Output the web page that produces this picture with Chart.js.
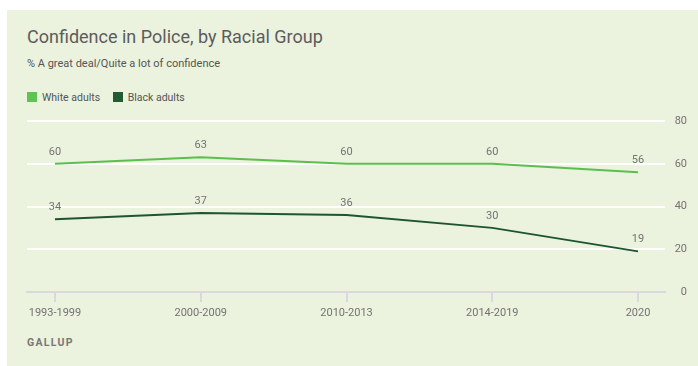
<!DOCTYPE html>
<html>
<head>
<meta charset="utf-8">
<script src="https://cdn.jsdelivr.net/npm/chart.js@4/dist/chart.umd.min.js"></script>
<style>
    html, body { margin: 0; padding: 0; background: #ffffff; }
    body { width: 698px; height: 366px; position: relative; overflow: hidden; font-family: Roboto, "Noto Sans", sans-serif; }
    .card { position: absolute; left: 7px; top: 10px; width: 691px; height: 356px; background: #ebf2de; }
    .title { position: absolute; left: 27px; top: 25px; font-size: 18px; color: #5c5c5c; line-height: 24px; white-space: nowrap; }
    .subtitle { position: absolute; left: 27px; top: 57px; font-size: 11px; color: #555; line-height: 14px; white-space: nowrap; }
    .legend { position: absolute; left: 27px; top: 91px; font-size: 10.5px; color: #555; line-height: 14px; white-space: nowrap; }
    .legend span.sw { display: inline-block; width: 10px; height: 10px; vertical-align: -1px; margin-right: 5px; }
    .legend span.item { margin-right: 10px; }
    .source { position: absolute; left: 27px; top: 336px; font-size: 10.5px; color: #777; font-weight: bold; letter-spacing: 1.3px; line-height: 14px; }
    #chartWrap { position: absolute; left: 0; top: 0; width: 698px; height: 366px; }
</style>
</head>
<body>
<div class="card"></div>
<div class="title">Confidence in Police, by Racial Group</div>
<div class="subtitle">% A great deal/Quite a lot of confidence</div>
<div class="legend">
    <span class="item"><span class="sw" style="background:#5fc253"></span>White adults</span>
    <span class="item"><span class="sw" style="background:#235c33"></span>Black adults</span>
</div>
<div class="source">GALLUP</div>
<div id="chartWrap"><canvas id="myChart"></canvas></div>

<script>
// categories and values
const periods = ['1993-1999', '2000-2009', '2010-2013', '2014-2019', '2020'];
const whiteAdults = [60, 63, 60, 60, 56];
const blackAdults = [34, 37, 36, 30, 19];
const yTicks = [0, 20, 40, 60, 80];

const whiteColor = '#5bbf4e';
const blackColor = '#1d5530';

// labels above each point
const pointLabels = {
    id: 'pointLabels',
    afterDatasetsDraw(chart) {
        const ctx = chart.ctx;
        ctx.save();
        ctx.font = '11px Roboto, "Noto Sans", sans-serif';
        ctx.fillStyle = '#737373';
        ctx.textAlign = 'center';
        ctx.textBaseline = 'middle';
        chart.data.datasets.forEach((ds, i) => {
            chart.getDatasetMeta(i).data.forEach((pt, j) => {
                ctx.fillText(ds.data[j].y, pt.x, pt.y - 12);
            });
        });
        ctx.restore();
    }
};

const toPoints = arr => arr.map((v, i) => ({ x: i, y: v }));

new Chart(document.getElementById('myChart'), {
    type: 'line',
    data: {
        datasets: [{
            label: 'White adults',
            data: toPoints(whiteAdults),
            borderColor: whiteColor,
            borderWidth: 2,
            pointRadius: 0,
            tension: 0
        }, {
            label: 'Black adults',
            data: toPoints(blackAdults),
            borderColor: blackColor,
            borderWidth: 2,
            pointRadius: 0,
            tension: 0
        }]
    },
    options: {
        responsive: true,
        maintainAspectRatio: false,
        animation: false,
        layout: { padding: { left: 27, right: 11, top: 121, bottom: 0 } },
        plugins: {
            legend: { display: false },
            tooltip: { enabled: false }
        },
        scales: {
            x: {
                type: 'linear',
                min: -0.192,
                max: 4.185,
                afterBuildTicks: scale => {
                    scale.ticks = periods.map((p, i) => ({ value: i }));
                },
                afterFit: scale => { scale.height = 74; },
                ticks: {
                    callback: v => periods[v],
                    color: '#737373',
                    font: { family: 'Roboto, "Noto Sans", sans-serif', size: 11 },
                    padding: 5,
                    maxRotation: 0,
                    autoSkip: false
                },
                grid: {
                    drawOnChartArea: false,
                    drawTicks: true,
                    tickLength: 10,
                    color: '#d8d9df',
                    lineWidth: 2
                },
                border: { color: '#d8d9df', width: 2 }
            },
            y: {
                position: 'right',
                min: 0,
                max: 80,
                afterBuildTicks: scale => {
                    scale.ticks = yTicks.map(v => ({ value: v }));
                },
                afterFit: scale => { scale.width = 22; },
                ticks: {
                    color: '#737373',
                    font: { family: 'Roboto, "Noto Sans", sans-serif', size: 11 },
                    crossAlign: 'far',
                    padding: 0
                },
                grid: {
                    drawTicks: false,
                    color: ctx => ctx.tick && ctx.tick.value === 0 ? 'rgba(0,0,0,0)' : '#ffffff',
                    lineWidth: 2
                },
                border: { display: false }
            }
        }
    },
    plugins: [pointLabels]
});
</script>
</body>
</html>
